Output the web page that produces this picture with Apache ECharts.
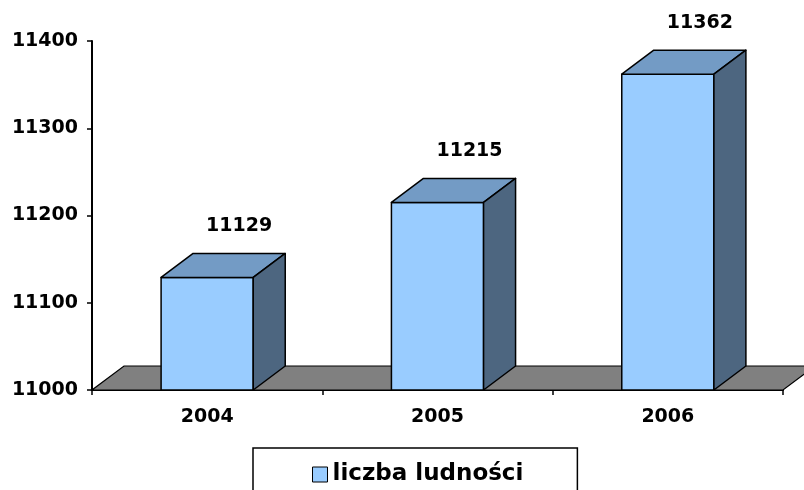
<!DOCTYPE html>
<html>
<head>
<meta charset="utf-8">
<script src="https://cdn.jsdelivr.net/npm/echarts@6/dist/echarts.min.js"></script>
<style>
  html, body { margin: 0; padding: 0; background: #fff; }
  #main { width: 804px; height: 490px; }
</style>
</head>
<body>
<div id="main"></div>
<script>
// dane
var years = ["2004", "2005", "2006"];
var population = [11129, 11215, 11362];
var seriesName = "liczba ludności";
var yMin = 11000;
var yMax = 11400;
var yStep = 100;

var chart = echarts.init(document.getElementById("main"));

var font = "DejaVu Sans";
var dx = 32, dy = -24; // glebokosc 3D

function floorItem(params, api) {
  var cs = params.coordSys;
  var x0 = cs.x, x1 = cs.x + cs.width, y = cs.y + cs.height;
  return {
    type: "polygon",
    shape: { points: [[x0, y], [x1, y], [x1 + dx, y + dy], [x0 + dx, y + dy]] },
    style: { fill: "#808080", stroke: "#000", lineWidth: 1.2 }
  };
}

function barItem(params, api) {
  var top = api.coord([api.value(0), api.value(1)]);
  var base = api.coord([api.value(0), yMin]);
  var w = api.size([1, 0])[0] * 0.4;
  var x0 = top[0] - w / 2, x1 = top[0] + w / 2;
  var y0 = top[1], y1 = base[1];
  var line = { stroke: "#000", lineWidth: 1.5, lineJoin: "round" };
  return {
    type: "group",
    children: [
      {
        type: "polygon",
        shape: { points: [[x0, y0], [x1, y0], [x1, y1], [x0, y1]] },
        style: Object.assign({ fill: "#99CCFF" }, line)
      },
      {
        type: "polygon",
        shape: { points: [[x0, y0], [x0 + dx, y0 + dy], [x1 + dx, y0 + dy], [x1, y0]] },
        style: Object.assign({ fill: "#739BC5" }, line)
      },
      {
        type: "polygon",
        shape: { points: [[x1, y0], [x1 + dx, y0 + dy], [x1 + dx, y1 + dy], [x1, y1]] },
        style: Object.assign({ fill: "#4D6680" }, line)
      },
      {
        type: "text",
        style: {
          x: top[0] + dx,
          y: y0 + dy - 27,
          text: String(api.value(1)),
          fill: "#000",
          font: "bold 19px " + font,
          align: "center",
          verticalAlign: "middle"
        }
      }
    ]
  };
}

var option = {
  animation: false,
  grid: { left: 92, right: 21, top: 41, bottom: 100 },
  legend: {
    left: 253,
    top: 448,
    padding: [15, 54, 30, 59],
    borderColor: "#000",
    borderWidth: 1.5,
    itemWidth: 15,
    itemHeight: 15,
    itemGap: 6,
    textStyle: { fontFamily: font, fontWeight: "bold", fontSize: 23, color: "#000" },
    data: [{
      name: seriesName,
      icon: "rect",
      itemStyle: { color: "#99CCFF", borderColor: "#000", borderWidth: 1 }
    }]
  },
  xAxis: {
    type: "category",
    data: years,
    boundaryGap: true,
    axisLine: { lineStyle: { color: "#000", width: 2 } },
    axisTick: { show: true, length: 5, lineStyle: { color: "#000", width: 1.5 } },
    axisLabel: { margin: 18, color: "#000", fontFamily: font, fontWeight: "bold", fontSize: 19 },
    splitLine: { show: false }
  },
  yAxis: {
    type: "value",
    min: yMin,
    max: yMax,
    interval: yStep,
    axisLine: { show: true, lineStyle: { color: "#000", width: 2 } },
    axisTick: { show: true, length: 5, lineStyle: { color: "#000", width: 1.5 } },
    axisLabel: {
      margin: 14, color: "#000", fontFamily: font, fontWeight: "bold", fontSize: 19,
      formatter: function (v) { return String(v); }
    },
    splitLine: { show: false }
  },
  series: [
    {
      name: "floor",
      type: "custom",
      renderItem: floorItem,
      data: [[0, yMin]],
      silent: true,
      z: 1
    },
    {
      name: seriesName,
      type: "custom",
      renderItem: barItem,
      itemStyle: { color: "#99CCFF" },
      encode: { x: 0, y: 1 },
      data: years.map(function (y, i) { return [i, population[i]]; }),
      z: 2
    }
  ]
};

chart.setOption(option);
</script>
</body>
</html>
